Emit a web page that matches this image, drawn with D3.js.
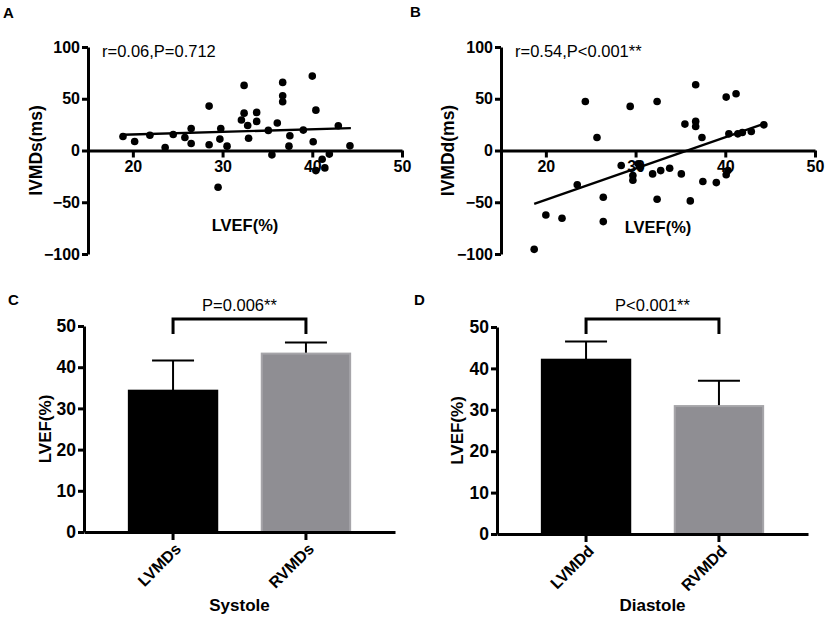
<!DOCTYPE html>
<html>
<head>
<meta charset="utf-8">
<script src="https://cdn.jsdelivr.net/npm/d3@7"></script>
<style>
  body { margin: 0; background: #fff; }
  svg { font-family: "Liberation Sans", Arial, Helvetica, sans-serif; }
  .axis path, .axis line { stroke: #000; stroke-width: 3; }
  .title { font-weight: bold; fill: #000; }
</style>
</head>
<body>
<div id="chart"></div>
<script>
// Panel A data: LVEF(%) vs IVMDs(ms)
// ==============================
var aLvef  = [18.9, 20.2, 21.9, 23.6, 24.5, 25.8, 26.5, 26.5, 28.5, 28.5, 29.5, 29.8, 29.7, 30.5,
              32.1, 32.4, 32.4, 32.8, 32.9, 33.8, 33.8, 35.1, 35.5, 36.1, 36.7, 36.7, 36.7, 37.5,
              37.4, 39.0, 40.0, 40.1, 40.4, 40.4, 41.1, 41.4, 41.9, 42.9, 44.2];
var aIvmds = [13.5, 8.7, 14.8, 2.9, 15.5, 12.6, 21.3, 6.8, 42.9, 5.5, -35.5, 21.3, 11, 4.2,
              29.4, 36.1, 62.9, 24.2, 11.9, 36.8, 28.1, 19.4, -4.2, 26.5, 65.8, 52.9, 47.1, 14.2,
              4.2, 19.7, 71.9, 8.4, 39, -19.4, -8.4, -16.8, -3.5, 23.9, 4.5];
var aFitX = [18.9, 44.3];
var aFitY = [15.2, 21.6];

// Panel B data: LVEF(%) vs IVMDd(ms)
// ==============================
var bLvef  = [18.7, 20.0, 21.8, 23.5, 24.4, 25.7, 26.4, 26.4, 28.4, 29.4, 29.7, 29.7, 30.3, 30.5,
              31.9, 32.4, 32.4, 32.8, 33.8, 35.1, 35.5, 36.1, 36.7, 36.7, 36.7, 37.4, 37.5, 39.0,
              40.1, 40.1, 40.3, 40.4, 41.2, 41.4, 41.9, 42.9, 44.3];
var bIvmdd = [-95.5, -62.3, -65.5, -33.2, 47.4, 12.6, -45.2, -68.7, -14.5, 42.6, -24.2, -28.7, -12.9, -15.5,
              -22.6, 47.4, -47.1, -19.4, -17.1, -22.6, 25.5, -48.7, 63.5, 28.1, 23.2, 12.6, -30, -31,
              51.6, -23.5, -19.4, 16.1, 54.8, 16.1, 17.4, 18.4, 24.8];
var bFitX = [18.7, 44.5];
var bFitY = [-51.6, 26.5];

// Panel C / D data: mean LVEF(%) with upper error
// ==============================
var cCategories = ["LVMDs", "RVMDs"];
var cMeans = [34.3, 43.3];
var cErrors = [7.3, 2.7];

var dCategories = ["LVMDd", "RVMDd"];
var dMeans = [42.1, 30.9];
var dErrors = [4.4, 6.1];

var scatterTicksX = [20, 30, 40, 50];
var scatterTicksY = [-100, -50, 0, 50, 100];
var barTicksY = [0, 10, 20, 30, 40, 50];

var svg = d3.select("#chart")
  .append("svg")
  .attr("width", 829)
  .attr("height", 626);

// bold tick labels, set inline so the axis defaults don't win
function boldTicks(sel, size) {
  sel.attr("font-family", null).attr("font-size", null);
  sel.selectAll("text")
    .style("font-family", "'Liberation Sans', Arial, Helvetica, sans-serif")
    .style("font-weight", "bold")
    .style("font-size", size + "px")
    .style("fill", "#000");
}

// Panel letters
// ==============================
[["A", 3, 18], ["B", 410, 17], ["C", 8, 305], ["D", 414, 305]].forEach(function(p) {
  svg.append("text")
    .attr("x", p[1]).attr("y", p[2])
    .attr("font-size", 15).attr("font-weight", "bold")
    .text(p[0]);
});

// Scatter panel builder
// ==============================
function drawScatter(opt) {
  var x = d3.scaleLinear().domain([15, 50]).range(opt.xRange);
  var y = d3.scaleLinear().domain([-100, 100]).range(opt.yRange);

  var g = svg.append("g");

  g.append("g")
    .attr("class", "axis")
    .attr("transform", `translate(${opt.xRange[0]}, 0)`)
    .call(d3.axisLeft(y).tickValues(scatterTicksY).tickSize(6).tickPadding(2).tickSizeOuter(0))
    .call(boldTicks, 16);

  g.append("g")
    .attr("class", "axis")
    .attr("transform", `translate(0, ${y(0)})`)
    .call(d3.axisBottom(x).tickValues(scatterTicksX).tickSize(7).tickPadding(3).tickSizeOuter(0))
    .call(boldTicks, 16);

  g.selectAll("circle")
    .data(opt.xs)
    .join("circle")
    .attr("cx", d => x(d))
    .attr("cy", (d, i) => y(opt.ys[i]))
    .attr("r", 3.8)
    .attr("fill", "#000");

  g.append("line")
    .attr("x1", x(opt.fitX[0])).attr("y1", y(opt.fitY[0]))
    .attr("x2", x(opt.fitX[1])).attr("y2", y(opt.fitY[1]))
    .attr("stroke", "#000").attr("stroke-width", 2.4);

  g.append("text")
    .attr("x", opt.xRange[0] + 14).attr("y", 57)
    .attr("font-size", 16.5)
    .text(opt.note);

  g.append("text")
    .attr("class", "title")
    .attr("x", opt.xLabelPos[0]).attr("y", opt.xLabelPos[1])
    .attr("text-anchor", "middle")
    .attr("font-size", 16.5)
    .text("LVEF(%)");

  g.append("text")
    .attr("class", "title")
    .attr("transform", `translate(${opt.yLabelX}, ${y(0)}) rotate(-90)`)
    .attr("text-anchor", "middle")
    .attr("font-size", 17.5)
    .text(opt.yLabel);
}

drawScatter({
  xRange: [88, 402], yRange: [254, 47],
  xs: aLvef, ys: aIvmds, fitX: aFitX, fitY: aFitY,
  note: "r=0.06,P=0.712", yLabel: "IVMDs(ms)",
  xLabelPos: [245, 231], yLabelX: 42
});

drawScatter({
  xRange: [501, 815], yRange: [254, 47],
  xs: bLvef, ys: bIvmdd, fitX: bFitX, fitY: bFitY,
  note: "r=0.54,P<0.001**", yLabel: "IVMDd(ms)",
  xLabelPos: [658, 233], yLabelX: 454
});

// Bar panel builder
// ==============================
function drawBars(opt) {
  var x = d3.scaleBand().domain(opt.cats).range(opt.xRange)
    .paddingInner(0.32).paddingOuter(0.33);
  var y = d3.scaleLinear().domain([0, 50]).range(opt.yRange);
  var colors = ["#000000", "#8f8e93"];
  var strokes = ["#000000", "#a6a5a9"];

  var g = svg.append("g");

  // error bars (upper only)
  opt.means.forEach(function(m, i) {
    var cx = x(opt.cats[i]) + x.bandwidth() / 2;
    g.append("line")
      .attr("x1", cx).attr("x2", cx)
      .attr("y1", y(m) + 2).attr("y2", y(m + opt.errs[i]))
      .attr("stroke", "#000").attr("stroke-width", 2);
    g.append("line")
      .attr("x1", cx - 21).attr("x2", cx + 21)
      .attr("y1", y(m + opt.errs[i])).attr("y2", y(m + opt.errs[i]))
      .attr("stroke", "#000").attr("stroke-width", 2);
  });

  g.selectAll("rect")
    .data(opt.means)
    .join("rect")
    .attr("x", (d, i) => x(opt.cats[i]) + 1)
    .attr("y", d => y(d))
    .attr("width", x.bandwidth() - 2)
    .attr("height", d => y(0) - y(d))
    .attr("fill", (d, i) => colors[i])
    .attr("stroke", (d, i) => strokes[i])
    .attr("stroke-width", 2);

  g.append("g")
    .attr("class", "axis")
    .attr("transform", `translate(${opt.xRange[0]}, 0)`)
    .call(d3.axisLeft(y).tickValues(barTicksY).tickSize(6).tickPadding(2).tickSizeOuter(0))
    .call(boldTicks, 17.5);

  var xAxis = g.append("g")
    .attr("class", "axis")
    .attr("transform", `translate(0, ${y(0)})`)
    .call(d3.axisBottom(x).tickSize(8).tickSizeOuter(0))
    .call(boldTicks, 16);

  xAxis.selectAll("text")
    .attr("x", 0).attr("y", 0)
    .attr("dy", "0.35em")
    .attr("text-anchor", "end")
    .attr("transform", "translate(5, 14) rotate(-45)");

  // significance bracket
  var x1 = x(opt.cats[0]) + x.bandwidth() / 2;
  var x2 = x(opt.cats[1]) + x.bandwidth() / 2;
  g.append("path")
    .attr("d", `M${x1},${opt.bracketY + 15}V${opt.bracketY}H${x2}V${opt.bracketY + 15}`)
    .attr("fill", "none").attr("stroke", "#000").attr("stroke-width", 3);

  g.append("text")
    .attr("x", (x1 + x2) / 2).attr("y", opt.bracketY - 8)
    .attr("text-anchor", "middle")
    .attr("font-size", 16.5)
    .text(opt.pText);

  g.append("text")
    .attr("class", "title")
    .attr("transform", `translate(${opt.yLabelX}, ${y(25)}) rotate(-90)`)
    .attr("text-anchor", "middle")
    .attr("font-size", 17)
    .text("LVEF(%)");

  g.append("text")
    .attr("class", "title")
    .attr("x", (x1 + x2) / 2).attr("y", 611)
    .attr("text-anchor", "middle")
    .attr("font-size", 17)
    .text(opt.xLabel);
}

drawBars({
  cats: cCategories, means: cMeans, errs: cErrors,
  xRange: [84, 395], yRange: [532, 326],
  bracketY: 319, pText: "P=0.006**", xLabel: "Systole", yLabelX: 51
});

drawBars({
  cats: dCategories, means: dMeans, errs: dErrors,
  xRange: [497, 808], yRange: [534, 327],
  bracketY: 319, pText: "P<0.001**", xLabel: "Diastole", yLabelX: 463
});
</script>
</body>
</html>
